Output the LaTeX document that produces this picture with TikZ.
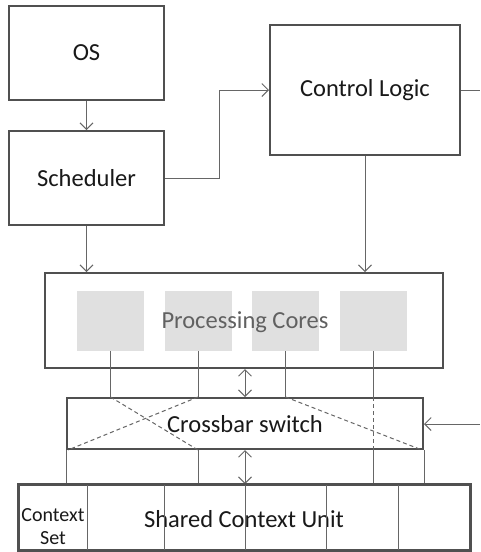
\documentclass[tikz,border=0pt]{standalone}
\usepackage{fontspec}
\setmainfont{Carlito}
\usetikzlibrary{arrows.meta,calc}
\definecolor{edge}{HTML}{505050}
\definecolor{wire}{HTML}{666666}
\definecolor{corefill}{HTML}{E0E0E0}
\tikzset{
  box/.style={draw=edge, line width=2pt, fill=white, inner sep=0pt, font=\fontsize{24.5}{28}\selectfont, text=black!90},
  core/.style={fill=corefill, draw=none, minimum width=67pt, minimum height=60pt, inner sep=0pt},
  wirel/.style={draw=wire, line width=1pt},
  arr/.style={wirel, -{Straight Barb[length=6.5pt,width=13pt]}},
  darr/.style={wirel, {Straight Barb[length=6.5pt,width=13pt]}-{Straight Barb[length=6.5pt,width=13pt]}},
  dashwire/.style={wirel, dash pattern=on 4pt off 3pt},
}
\begin{document}
\begin{tikzpicture}[x=1pt,y=-1pt]
\useasboundingbox (0,0) rectangle (480,552);
% top blocks
\node[box, minimum width=155pt, minimum height=94pt] (os) at (86.5,53) {OS};
\node[box, minimum width=155pt, minimum height=94pt] (sch) at (86.5,178) {Scheduler};
\node[box, minimum width=190pt, minimum height=130pt] (cl) at (365,90) {Control Logic};
% processing cores
\node[box, minimum width=398pt, minimum height=95pt] (pc) at (244,320.5) {};
\node[core] (c1) at (110.5,321) {};
\node[core] (c2) at (198,321) {};
\node[core] (c3) at (285.5,321) {};
\node[core] (c4) at (373,321) {};
\node[font=\fontsize{24.5}{28}\selectfont, text=black!62] (pclabel) at (245,322) {Processing Cores};
% crossbar and shared context unit
\node[box, minimum width=356pt, minimum height=51pt] (xbar) at (245,423.5) {};
\node[box, minimum width=451pt, minimum height=65pt] (scu) at (244.5,517.5) {};
% external ends
\coordinate (clout) at (480,90);
\coordinate (xin) at (480,424);
% control flow
\draw[arr] (os.south) -- (sch.north);
\draw[arr] (sch.east) -- ++(54,0) |- (cl.west);
\draw[arr] (sch.south) -- (sch.south |- pc.north);
\draw[arr] (cl.south) -- (cl.south |- pc.north);
\draw[wirel] (cl.east) -- (clout);
\draw[arr] (xin) -- (xbar.east |- xin);
% cores to crossbar
\foreach \c in {c1,c2,c3,c4}
  \draw[wirel] (\c.south) -- (\c.south |- xbar.north);
\draw[dashwire] (c1.south |- xbar.north) -- (xbar.south -| c2.south);
\draw[dashwire] (c2.south |- xbar.north) -- ([xshift=2pt]xbar.south west);
\draw[dashwire] (c3.south |- xbar.north) -- ([xshift=-2pt]xbar.south east);
\draw[dashwire] (c4.south |- xbar.north) -- (xbar.south -| c4.south);
% crossbar to shared context unit
\draw[wirel] (xbar.south west) -- (scu.north -| xbar.south west);
\draw[wirel] (xbar.south -| c2.south) -- (scu.north -| c2.south);
\draw[wirel] (xbar.south -| c4.south) -- (scu.north -| c4.south);
\draw[wirel] (xbar.south east) -- (scu.north -| xbar.south east);
\draw[darr] (pc.south -| xbar.north) -- (xbar.north);
\draw[darr] (xbar.south) -- (scu.north -| xbar.south);
% labels
\node[font=\fontsize{24.5}{28}\selectfont, text=black!90] (xlabel) at (245,424) {Crossbar switch};
\node[font=\fontsize{24.5}{28}\selectfont, text=black!90] (slabel) at (244,519) {Shared Context Unit};
\node[font=\fontsize{20}{23}\selectfont, text=black!90, align=center] (cset) at (53,527) {Context\\Set};
% context set dividers
\foreach \x in {87,164,245,326,398}
  \draw[wirel] (\x,485) -- (\x,550);
\draw[draw=edge, line width=2pt] (scu.north west) rectangle (scu.south east);
\end{tikzpicture}
\end{document}
